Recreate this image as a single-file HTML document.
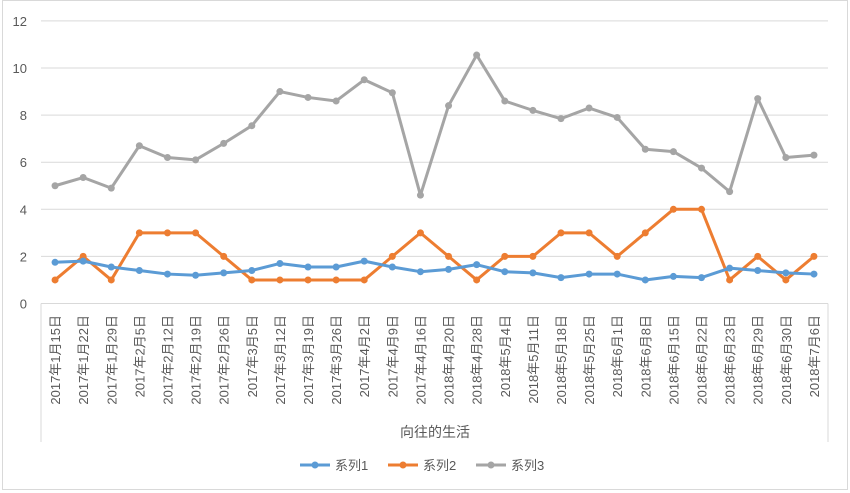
<!DOCTYPE html>
<html><head><meta charset="utf-8"><style>body{margin:0;background:#fff}svg{display:block}</style></head><body>
<svg width="850" height="493" xmlns="http://www.w3.org/2000/svg" font-family="Liberation Sans, Noto Sans CJK SC, sans-serif">
<rect x="2.5" y="0.5" width="845" height="489" fill="#fff" stroke="#d9d9d9"/>
<g id="g"></g>
<script>
const ns="http://www.w3.org/2000/svg",g=document.getElementById('g');
function el(t,a,txt){const e=document.createElementNS(ns,t);for(const k in a)e.setAttribute(k,a[k]);if(txt!=null)e.textContent=txt;g.appendChild(e);return e;}
const L=41,R=828,Y0=303.5,U=23.55;
for(let k=1;k<=6;k++){const y=Y0-k*2*U;el('line',{x1:L,x2:R,y1:y,y2:y,stroke:'#d9d9d9'});}
for(let k=0;k<=6;k++){el('text',{x:27,y:Y0-k*2*U+5,'font-size':13,fill:'#595959','text-anchor':'end'},String(k*2));}
el('line',{x1:L,x2:R,y1:Y0,y2:Y0,stroke:'#d9d9d9'});
el('line',{x1:L,x2:L,y1:Y0,y2:442,stroke:'#d9d9d9'});
el('line',{x1:R,x2:R,y1:Y0,y2:442,stroke:'#d9d9d9'});
const cats=['2017年1月15日','2017年1月22日','2017年1月29日','2017年2月5日','2017年2月12日','2017年2月19日','2017年2月26日','2017年3月5日','2017年3月12日','2017年3月19日','2017年3月26日','2017年4月2日','2017年4月9日','2017年4月16日','2018年4月20日','2018年4月28日','2018年5月4日','2018年5月11日','2018年5月18日','2018年5月25日','2018年6月1日','2018年6月8日','2018年6月15日','2018年6月22日','2018年6月23日','2018年6月29日','2018年6月30日','2018年7月6日'];
const W=(R-L)/28,X=i=>L+W*(i+0.5);
cats.forEach((c,i)=>{el('text',{transform:`translate(${X(i)+5},315) rotate(-90)`,'font-size':13,fill:'#595959','text-anchor':'end'},c);});
el('text',{x:435,y:437,'font-size':14,fill:'#595959','text-anchor':'middle'},'向往的生活');
const s1=[1.75,1.8,1.55,1.4,1.25,1.2,1.3,1.4,1.7,1.55,1.55,1.8,1.55,1.35,1.45,1.65,1.35,1.3,1.1,1.25,1.25,1.0,1.15,1.1,1.5,1.4,1.3,1.25];
const s2=[1,2,1,3,3,3,2,1,1,1,1,1,2,3,2,1,2,2,3,3,2,3,4,4,1,2,1,2];
const s3=[5,5.35,4.9,6.7,6.2,6.1,6.8,7.55,9.0,8.75,8.6,9.5,8.95,4.6,8.4,10.55,8.6,8.2,7.85,8.3,7.9,6.55,6.45,5.75,4.75,8.7,6.2,6.3];
function ser(d,c){el('polyline',{points:d.map((v,i)=>X(i)+','+(Y0-v*U)).join(' '),fill:'none',stroke:c,'stroke-width':3,'stroke-linejoin':'round'});d.forEach((v,i)=>el('circle',{cx:X(i),cy:Y0-v*U,r:3.5,fill:c}));}
ser(s3,'#a5a5a5');ser(s2,'#ed7d31');ser(s1,'#5b9bd5');
[['#5b9bd5','系列1',300],['#ed7d31','系列2',388],['#a5a5a5','系列3',476]].forEach(([c,t,x])=>{el('line',{x1:x,x2:x+30,y1:465,y2:465,stroke:c,'stroke-width':3});el('circle',{cx:x+15,cy:465,r:3.5,fill:c});el('text',{x:x+35,y:470,'font-size':13,fill:'#595959'},t);});
</script>
</svg>
</body></html>
